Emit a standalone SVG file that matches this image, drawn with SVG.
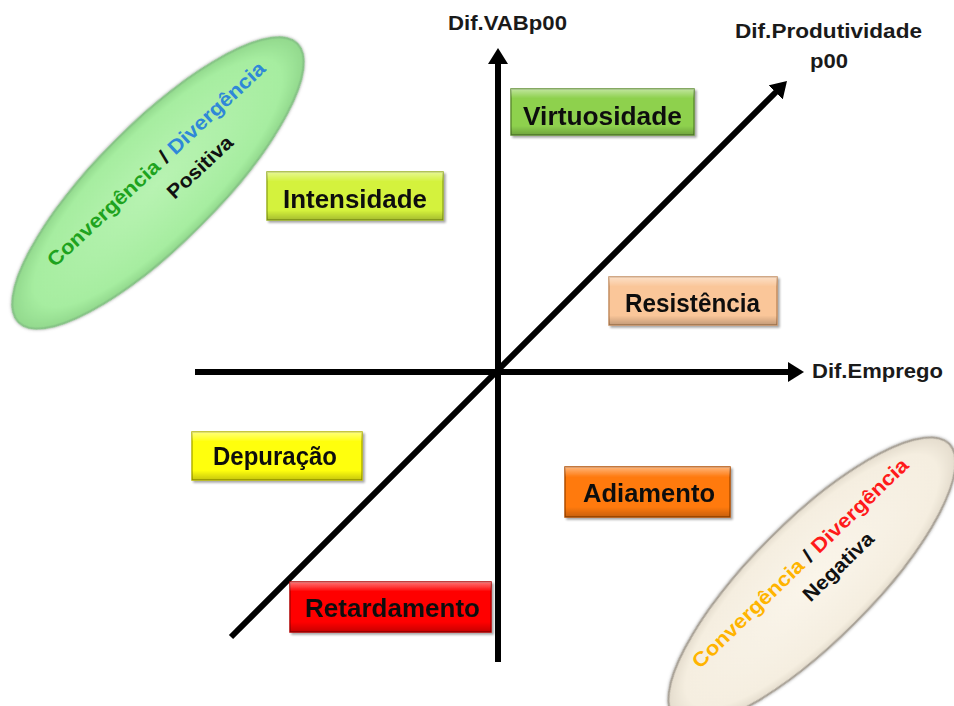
<svg xmlns="http://www.w3.org/2000/svg" width="954" height="706" viewBox="0 0 954 706">
<style>
.lbl{font-family:"Liberation Sans",Arial,sans-serif;font-weight:bold;fill:#1a1a1a}
.box{font-family:"Liberation Sans",Arial,sans-serif;font-weight:bold;font-size:26px;fill:#111;text-anchor:middle}
.ax{fill:none;stroke:#000;stroke-width:6}
.ell{font-family:"Liberation Sans",Arial,sans-serif;font-weight:bold;font-size:20px;text-anchor:middle}
.shine{fill:url(#shine)}
</style>
<defs>
<marker id="ah" markerUnits="userSpaceOnUse" markerWidth="16" markerHeight="20" viewBox="0 0 16 20" refX="4" refY="10" orient="auto">
<path d="M0,0 L16,10 L0,20 z" fill="#000"/>
</marker>
<linearGradient id="shine" x1="0" y1="0" x2="0" y2="1">
<stop offset="0" stop-color="#fff" stop-opacity="0.45"/>
<stop offset="0.2" stop-color="#fff" stop-opacity="0"/>
<stop offset="0.8" stop-color="#000" stop-opacity="0"/>
<stop offset="1" stop-color="#000" stop-opacity="0.22"/>
</linearGradient>
<radialGradient id="g1" cx="0.5" cy="0.5" r="0.5">
<stop offset="0" stop-color="#b8f3b2"/>
<stop offset="0.85" stop-color="#a6eda0"/>
<stop offset="1" stop-color="#92d98d"/>
</radialGradient>
<radialGradient id="g2" cx="0.5" cy="0.5" r="0.5">
<stop offset="0" stop-color="#faf5ea"/>
<stop offset="0.88" stop-color="#f5eee0"/>
<stop offset="1" stop-color="#e4dccd"/>
</radialGradient>
<filter id="sh" x="-10%" y="-10%" width="130%" height="130%">
<feDropShadow dx="2" dy="2" stdDeviation="1" flood-color="#000" flood-opacity="0.35"/>
</filter>
<filter id="esh" x="-10%" y="-10%" width="120%" height="120%">
<feDropShadow dx="0" dy="0" stdDeviation="1.5" flood-color="#555" flood-opacity="0.6"/>
</filter>
</defs>
<rect width="954" height="706" fill="#fff"/>

<g id="ellipse-positiva">
<ellipse cx="158" cy="183" rx="197" ry="60" transform="rotate(-45 158 183)" fill="url(#g1)" stroke="#86c486" stroke-width="2" filter="url(#esh)"/>
<g transform="translate(156,164) rotate(-43)">
<text class="ell" x="0" y="7" textLength="290" lengthAdjust="spacingAndGlyphs"><tspan fill="#1ea31e">Convergência</tspan><tspan fill="#111"> / </tspan><tspan fill="#2f88d8">Divergência</tspan></text>
<text class="ell" x="30" y="39" fill="#111" textLength="82" lengthAdjust="spacingAndGlyphs">Positiva</text>
</g>
</g>

<g id="ellipse-negativa">
<ellipse cx="812" cy="581" rx="194" ry="60" transform="rotate(-45 812 581)" fill="url(#g2)" stroke="#a8a196" stroke-width="2" filter="url(#esh)"/>
<g transform="translate(800,563) rotate(-44)">
<text class="ell" x="0" y="7" textLength="292" lengthAdjust="spacingAndGlyphs"><tspan fill="#ffb400">Convergência</tspan><tspan fill="#111"> / </tspan><tspan fill="#ff1a1a">Divergência</tspan></text>
<text class="ell" x="25" y="36" fill="#111" textLength="90" lengthAdjust="spacingAndGlyphs">Negativa</text>
</g>
</g>

<g id="connectors">
<line class="ax" x1="498" y1="662" x2="498" y2="60" marker-end="url(#ah)"/>
<line class="ax" x1="195" y1="372" x2="792" y2="372" marker-end="url(#ah)"/>
<line class="ax" x1="231" y1="637" x2="778.5" y2="89.5" marker-end="url(#ah)"/>
</g>

<g id="label-vab"><text class="lbl" x="448" y="30" font-size="20" textLength="119" lengthAdjust="spacingAndGlyphs">Dif.VABp00</text></g>
<g id="label-prod">
<text class="lbl" x="735" y="38" font-size="20" textLength="187" lengthAdjust="spacingAndGlyphs">Dif.Produtividade</text>
<text class="lbl" x="829" y="68" font-size="20" text-anchor="middle" textLength="38" lengthAdjust="spacingAndGlyphs">p00</text>
</g>
<g id="label-emprego"><text class="lbl" x="812" y="378" font-size="20" textLength="131" lengthAdjust="spacingAndGlyphs">Dif.Emprego</text></g>

<g id="virtuosidade" filter="url(#sh)">
<rect x="511" y="89" width="183" height="46" fill="#8ed14e" stroke="#5f8f33" stroke-width="1.5"/>
<rect x="511" y="89" width="183" height="46" class="shine"/>
<text class="box" x="602.5" y="125" textLength="159" lengthAdjust="spacingAndGlyphs">Virtuosidade</text>
</g>
<g id="intensidade" filter="url(#sh)">
<rect x="267" y="172" width="176" height="48" fill="#d4f23c" stroke="#98b020" stroke-width="1.5"/>
<rect x="267" y="172" width="176" height="48" class="shine"/>
<text class="box" x="355" y="208" textLength="144" lengthAdjust="spacingAndGlyphs">Intensidade</text>
</g>
<g id="resistencia" filter="url(#sh)">
<rect x="609" y="277" width="168" height="48" fill="#fac699" stroke="#c38d5f" stroke-width="1.5"/>
<rect x="609" y="277" width="168" height="48" class="shine"/>
<text class="box" x="692.5" y="312" textLength="135" lengthAdjust="spacingAndGlyphs">Resistência</text>
</g>
<g id="depuracao" filter="url(#sh)">
<rect x="192" y="432" width="170" height="48" fill="#ffff10" stroke="#b5b500" stroke-width="1.5"/>
<rect x="192" y="432" width="170" height="48" class="shine"/>
<text class="box" x="275" y="465" textLength="124" lengthAdjust="spacingAndGlyphs">Depuração</text>
</g>
<g id="adiamento" filter="url(#sh)">
<rect x="565" y="467" width="165" height="50" fill="#ff7a0e" stroke="#b04e00" stroke-width="1.5"/>
<rect x="565" y="467" width="165" height="50" class="shine"/>
<text class="box" x="649" y="502" textLength="132" lengthAdjust="spacingAndGlyphs">Adiamento</text>
</g>
<g id="retardamento" filter="url(#sh)">
<rect x="290" y="582" width="201" height="50" fill="#ff0000" stroke="#b00000" stroke-width="1.5"/>
<rect x="290" y="582" width="201" height="50" class="shine"/>
<text class="box" x="392.5" y="617" textLength="175" lengthAdjust="spacingAndGlyphs">Retardamento</text>
</g>
</svg>
